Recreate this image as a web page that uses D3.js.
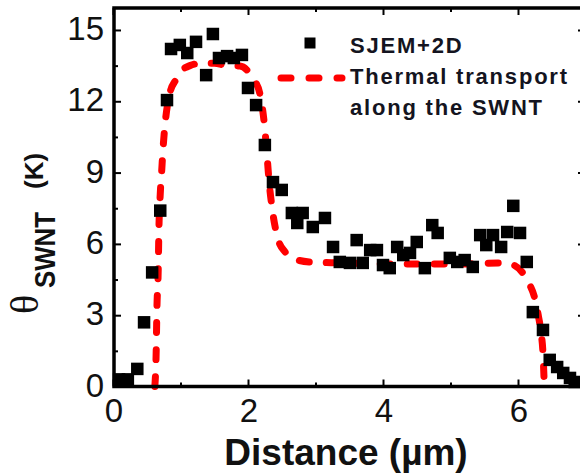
<!DOCTYPE html>
<html>
<head>
<meta charset="utf-8">
<script src="https://cdn.jsdelivr.net/npm/d3@7"></script>
<style>
  html, body { margin: 0; padding: 0; background: #fff; }
  svg { display: block; }
</style>
</head>
<body>
<svg id="chart" width="580" height="476"></svg>
<script>
// Measured data: SJEM+2D (distance in µm, theta in K)
const sjemX = [0.09, 0.22, 0.36, 0.46, 0.58, 0.70, 0.80, 0.86, 0.99, 1.10, 1.23, 1.38, 1.48, 1.57, 1.69, 1.79, 1.91, 2.00, 2.12, 2.25, 2.37, 2.50, 2.65, 2.73, 2.81, 2.96, 3.14, 3.26, 3.36, 3.51, 3.61, 3.70, 3.81, 3.91, 4.00, 4.10, 4.21, 4.30, 4.40, 4.50, 4.62, 4.73, 4.81, 4.99, 5.10, 5.21, 5.33, 5.44, 5.53, 5.63, 5.75, 5.84, 5.93, 6.03, 6.13, 6.22, 6.37, 6.47, 6.58, 6.67, 6.77, 6.84];
const sjemY = [0.30, 0.30, 0.74, 2.70, 4.80, 7.40, 12.05, 14.20, 14.37, 14.03, 14.50, 13.10, 14.83, 13.82, 13.90, 13.82, 13.95, 12.56, 11.84, 10.16, 8.60, 8.27, 7.30, 6.88, 7.30, 6.71, 7.09, 5.87, 5.24, 5.20, 6.16, 5.20, 5.74, 5.74, 5.11, 4.98, 5.87, 5.53, 5.62, 6.08, 4.98, 6.79, 6.46, 5.41, 5.24, 5.32, 5.03, 6.37, 5.95, 6.37, 5.87, 6.50, 7.60, 6.46, 5.24, 3.13, 2.38, 1.12, 0.82, 0.57, 0.36, 0.19];

// Model: thermal transport along the SWNT
const modelX = [0.62, 0.64, 0.65, 0.67, 0.68, 0.70, 0.72, 0.74, 0.77, 0.81, 0.85, 0.93, 0.99, 1.14, 1.32, 1.50, 1.69, 1.88, 1.99, 2.09, 2.18, 2.24, 2.28, 2.31, 2.36, 2.44, 2.55, 2.65, 2.92, 3.36, 4.25, 5.14, 5.73, 5.93, 6.07, 6.17, 6.24, 6.30, 6.34, 6.37, 6.39];
const modelY = [0.00, 1.50, 3.20, 4.90, 6.60, 8.10, 9.00, 9.95, 11.00, 11.90, 12.43, 12.90, 13.20, 13.50, 13.60, 13.60, 13.50, 13.48, 13.30, 12.90, 12.26, 11.10, 9.80, 8.70, 7.45, 6.25, 5.66, 5.40, 5.24, 5.20, 5.15, 5.15, 5.20, 5.11, 4.78, 4.30, 3.80, 3.00, 2.30, 1.40, 0.00];

const xMajor = [0, 2, 4, 6];
const xMinor = [1, 3, 5, 7];
const yMajor = [0, 3, 6, 9, 12, 15];
const yMinor = [1.5, 4.5, 7.5, 10.5, 13.5];
const legendLabels = ["SJEM+2D", "Thermal transport", "along the SWNT"];

const svg = d3.select("#chart");
const L = 114, R = 585, T = 8, B = 386.5;
const x = d3.scaleLinear().domain([0, 7]).range([113, 585.5]);
const y = d3.scaleLinear().domain([0, 16]).range([386.5, 6.2]);

const sans = "'Liberation Sans', Arial, Helvetica, sans-serif";

// Model curve (drawn beneath the squares)
const line = d3.line().x((d, i) => x(modelX[i])).y((d, i) => y(modelY[i])).curve(d3.curveMonotoneX);
svg.append("path")
  .datum(modelX)
  .attr("d", line)
  .attr("fill", "none")
  .attr("stroke", "#ff0000")
  .attr("stroke-width", 7)
  .attr("stroke-linecap", "round")
  .attr("stroke-dasharray", "10,17");

// Squares
const sq = 12.5;
svg.append("g").selectAll("rect")
  .data(sjemX)
  .join("rect")
  .attr("x", (d) => x(d) - sq / 2)
  .attr("y", (d, i) => y(sjemY[i]) - sq / 2)
  .attr("width", sq)
  .attr("height", sq)
  .attr("fill", "#000");

// Axes ticks (inward)
function tickAxis(gen, tr) {
  const g = svg.append("g").attr("transform", tr).call(gen);
  g.select(".domain").remove();
  g.selectAll("line").attr("stroke", "#000").attr("stroke-width", 2);
  return g;
}
tickAxis(d3.axisBottom(x).tickValues(xMajor).tickSize(-7).tickFormat(""), `translate(0,${B})`);
tickAxis(d3.axisBottom(x).tickValues(xMinor).tickSize(-4).tickFormat(""), `translate(0,${B})`);
tickAxis(d3.axisTop(x).tickValues(xMajor).tickSize(-7).tickFormat(""), `translate(0,${T})`);
tickAxis(d3.axisTop(x).tickValues(xMinor).tickSize(-4).tickFormat(""), `translate(0,${T})`);
tickAxis(d3.axisLeft(y).tickValues(yMajor).tickSize(-7).tickFormat(""), `translate(${L},0)`);
tickAxis(d3.axisLeft(y).tickValues(yMinor).tickSize(-4).tickFormat(""), `translate(${L},0)`);
tickAxis(d3.axisRight(y).tickValues(yMajor).tickSize(-7).tickFormat(""), `translate(${R},0)`);
tickAxis(d3.axisRight(y).tickValues(yMinor).tickSize(-4).tickFormat(""), `translate(${R},0)`);

// Frame
svg.append("rect")
  .attr("x", L).attr("y", T)
  .attr("width", R - L).attr("height", B - T)
  .attr("fill", "none").attr("stroke", "#000").attr("stroke-width", 3.5);

// Tick labels
svg.append("g").selectAll("text")
  .data(yMajor)
  .join("text")
  .attr("x", 104)
  .attr("y", (d) => y(d) + 10)
  .attr("text-anchor", "end")
  .attr("font-family", sans)
  .attr("font-size", 33)
  .attr("fill", "#111")
  .text((d) => d);

svg.append("g").selectAll("text")
  .data(xMajor)
  .join("text")
  .attr("x", (d) => x(d) + 1)
  .attr("y", 422)
  .attr("text-anchor", "middle")
  .attr("font-family", sans)
  .attr("font-size", 33)
  .attr("fill", "#111")
  .text((d) => d);

// Axis titles
svg.append("text")
  .attr("x", 346).attr("y", 465)
  .attr("text-anchor", "middle")
  .attr("font-family", sans)
  .attr("font-weight", "bold")
  .attr("font-size", 37)
  .attr("fill", "#111")
  .text("Distance (\u00B5m)");

svg.append("text")
  .attr("transform", "translate(38,314) rotate(-90)")
  .attr("font-family", "'Liberation Serif', 'DejaVu Serif', serif")
  .attr("font-size", 40)
  .attr("fill", "#111")
  .text("\u03B8");
svg.append("text")
  .attr("transform", "translate(55,288) rotate(-90)")
  .attr("font-family", sans)
  .attr("font-weight", "bold")
  .attr("font-size", 29)
  .attr("textLength", 76)
  .attr("lengthAdjust", "spacingAndGlyphs")
  .attr("fill", "#111")
  .text("SWNT");
svg.append("text")
  .attr("transform", "translate(43,189) rotate(-90)")
  .attr("font-family", sans)
  .attr("font-weight", "bold")
  .attr("font-size", 26)
  .attr("fill", "#111")
  .text("(K)");

// Legend
svg.append("rect")
  .attr("x", 310 - 5.5).attr("y", 43 - 5.5)
  .attr("width", 11).attr("height", 11)
  .attr("fill", "#000");
svg.append("line")
  .attr("x1", 281).attr("x2", 342)
  .attr("y1", 78).attr("y2", 78)
  .attr("stroke", "#ff0000")
  .attr("stroke-width", 7)
  .attr("stroke-linecap", "round")
  .attr("stroke-dasharray", "10,18");

const legY = [53, 84, 115];
svg.append("g").selectAll("text")
  .data(legendLabels)
  .join("text")
  .attr("x", 350)
  .attr("y", (d, i) => legY[i])
  .attr("font-family", sans)
  .attr("font-weight", "bold")
  .attr("font-size", 22)
  .attr("letter-spacing", 1.8)
  .attr("fill", "#141420")
  .text((d) => d);
</script>
</body>
</html>
